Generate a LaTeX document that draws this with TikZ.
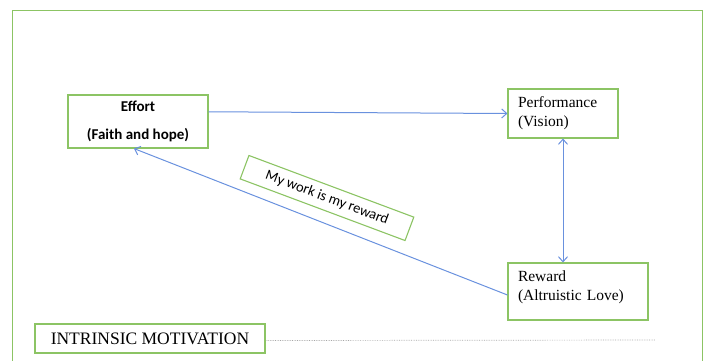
\documentclass[tikz,border=0pt]{standalone}
\usepackage{fontspec}
\setmainfont{Liberation Serif}
\newfontfamily\calibri{Carlito}
\usepackage{xcolor}
\usepackage{tikz}
\usetikzlibrary{arrows.meta,calc}

\definecolor{boxgreen}{RGB}{140,196,100}
\definecolor{linkblue}{RGB}{105,145,222}

\begin{document}
\begin{tikzpicture}[x=1pt,y=-1pt,
  box/.style={draw=boxgreen, line width=1.1pt, fill=white, inner sep=0pt},
  link/.style={draw=linkblue, line width=1pt, -{Straight Barb[length=5pt,width=9pt]}},
  serifbox/.style={box, font=\fontsize{15.5}{19}\selectfont, align=left,
    text width=90pt, inner xsep=10pt}]
  \useasboundingbox (0,0) rectangle (704,360);
  % outer frame
  \draw[boxgreen, line width=1pt] (12,10) rectangle (702,380);
  % stages
  \node[box, minimum width=140pt, minimum height=53pt, align=center,
    font=\calibri\bfseries\fontsize{15}{28}\selectfont] (effort) at (138,121.5)
    {Effort\\(Faith and hope)};
  \node[serifbox, minimum height=49pt] (perf) at (563,113.5)
    {Performance\\(Vision)};
  \node[serifbox, text width=120pt, minimum height=57pt] (reward) at (578,291.5)
    {Reward\\(Altruistic Love)\rule[-11pt]{0pt}{0pt}};
  % links
  \draw[link] ($(effort.north east)!0.32!(effort.south east)$) -- (perf.west);
  \draw[link, {Straight Barb[length=5pt,width=9pt]}-{Straight Barb[length=5pt,width=9pt]}]
    (perf.south) -- (perf.south |- reward.north);
  \draw[link] ($(reward.north west)!0.56!(reward.south west)$) -- ($(effort.south)+(-4,0)$);
  % slogan
  \node[box, rotate=-20.5, minimum width=176pt, minimum height=25pt,
    font=\calibri\fontsize{14.5}{17}\selectfont] (slogan) at (327,198)
    {My work is my reward};
  % caption
  \node[box, minimum width=230pt, minimum height=29pt,
    font=\fontsize{17.5}{19}\selectfont] (intr) at (150,338.5)
    {INTRINSIC MOTIVATION};
  \coordinate (dotend) at (655,340);
  \draw[gray!70, densely dotted, line width=0.7pt] ($(intr.east)+(1,2)$) -- (dotend);
\end{tikzpicture}
\end{document}
